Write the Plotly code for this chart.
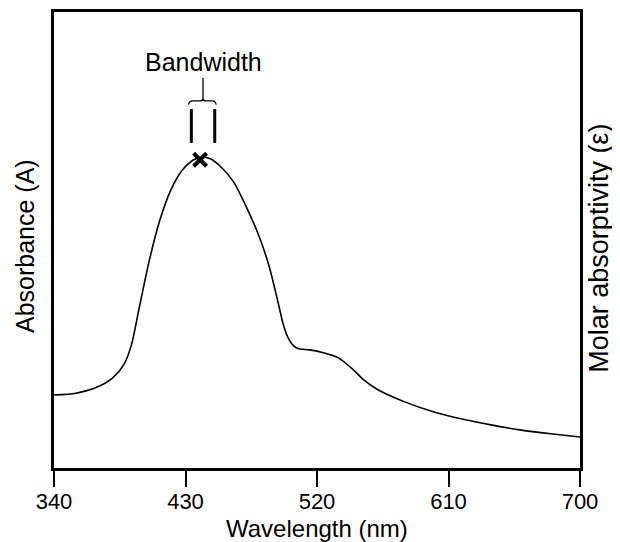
import plotly.graph_objects as go

# Spectrum data
wavelength = [340, 355, 370, 380, 388, 393, 398, 405, 412, 420, 428, 435, 441, 447,
              455, 463, 472, 480, 487, 493, 497, 500, 504, 508, 515, 525, 535, 545,
              552, 562, 580, 600, 620, 640, 660, 680, 700]
absorbance = [0.160, 0.164, 0.178, 0.197, 0.228, 0.270, 0.346, 0.452, 0.539, 0.610,
              0.654, 0.675, 0.682, 0.678, 0.658, 0.627, 0.570, 0.511, 0.445, 0.368,
              0.314, 0.287, 0.268, 0.261, 0.259, 0.252, 0.241, 0.215, 0.193, 0.171,
              0.145, 0.123, 0.107, 0.094, 0.083, 0.075, 0.068]

tick_values = [340, 430, 520, 610, 700]
tick_labels = ["340", "430", "520", "610", "700"]

bandwidth_nm = [434, 450]          # bandwidth bar positions
bandwidth_bar_y = [0.713, 0.787]   # bar vertical extent
bracket_y = 0.805
stem_top = 0.855

FONT = "Liberation Sans, Arial, Helvetica, sans-serif"

peak_i = max(range(len(absorbance)), key=lambda i: absorbance[i])
peak_x, peak_y = wavelength[peak_i], absorbance[peak_i]

fig = go.Figure()
fig.add_trace(go.Scatter(
    x=wavelength, y=absorbance, mode="lines",
    line=dict(color="black", width=1.6, shape="spline", smoothing=0.7),
    hoverinfo="skip", showlegend=False))
fig.add_trace(go.Scatter(
    x=[peak_x - 1], y=[peak_y - 0.006], mode="markers",
    marker=dict(symbol="x-thin", size=13, line=dict(width=4, color="black")),
    showlegend=False, hoverinfo="skip"))

# Bandwidth bars
for bx in bandwidth_nm:
    fig.add_shape(type="line", xref="x", yref="y", x0=bx, x1=bx,
                  y0=bandwidth_bar_y[0], y1=bandwidth_bar_y[1],
                  line=dict(color="black", width=3))

# Bracket
cx = (bandwidth_nm[0] + bandwidth_nm[1]) / 2
l = bandwidth_nm[0] - 2
r = bandwidth_nm[1] + 1
path = (f"M {l},{bracket_y - 0.008} Q {l + 0.5},{bracket_y} {l + 3},{bracket_y} "
        f"L {cx - 2},{bracket_y} Q {cx},{bracket_y} {cx},{bracket_y + 0.006} "
        f"Q {cx},{bracket_y} {cx + 2},{bracket_y} L {r - 3},{bracket_y} "
        f"Q {r - 0.5},{bracket_y} {r},{bracket_y - 0.008}")
fig.add_shape(type="path", xref="x", yref="y", path=path,
              line=dict(color="black", width=1.3))
fig.add_shape(type="line", xref="x", yref="y", x0=cx, x1=cx,
              y0=bracket_y + 0.006, y1=stem_top, line=dict(color="black", width=1.3))

fig.add_annotation(x=cx, y=stem_top, xref="x", yref="y", text="Bandwidth",
                   showarrow=False, yanchor="bottom", yshift=0,
                   font=dict(family=FONT, size=25, color="black"))

fig.add_annotation(x=-0.055, y=0.487, xref="paper", yref="paper", text="Absorbance (A)",
                   textangle=-90, showarrow=False, xanchor="center", yanchor="middle",
                   font=dict(family=FONT, size=25, color="black"))
fig.add_annotation(x=1.036, y=0.483, xref="paper", yref="paper",
                   text="Molar absorptivity (ε)",
                   textangle=-90, showarrow=False, xanchor="center", yanchor="middle",
                   font=dict(family=FONT, size=27, color="black"))
fig.add_annotation(x=0.5, y=0, xref="paper", yref="paper", text="Wavelength (nm)",
                   showarrow=False, xanchor="center", yanchor="middle", yshift=-60,
                   font=dict(family=FONT, size=24, color="black"))

# Page body has an 8px margin, so the figure is sized to fit the window.
fig.update_layout(
    width=612, height=534,
    margin=dict(l=46, r=40, t=4, b=74),
    paper_bgcolor="white", plot_bgcolor="white",
    font=dict(family=FONT, color="black"),
    showlegend=False,
    xaxis=dict(range=[340, 700], tickvals=tick_values, ticktext=tick_labels,
               ticks="outside", ticklen=16, tickwidth=2, tickcolor="black",
               ticklabelstandoff=-4,
               showline=True, linewidth=2.5, linecolor="black", mirror=True,
               showgrid=False, zeroline=False, automargin=False,
               tickfont=dict(family=FONT, size=22, color="black")),
    yaxis=dict(range=[0, 1], showticklabels=False, ticks="",
               showline=True, linewidth=2.5, linecolor="black", mirror=True,
               showgrid=False, zeroline=False, automargin=False),
)

fig.write_html("out.html")
